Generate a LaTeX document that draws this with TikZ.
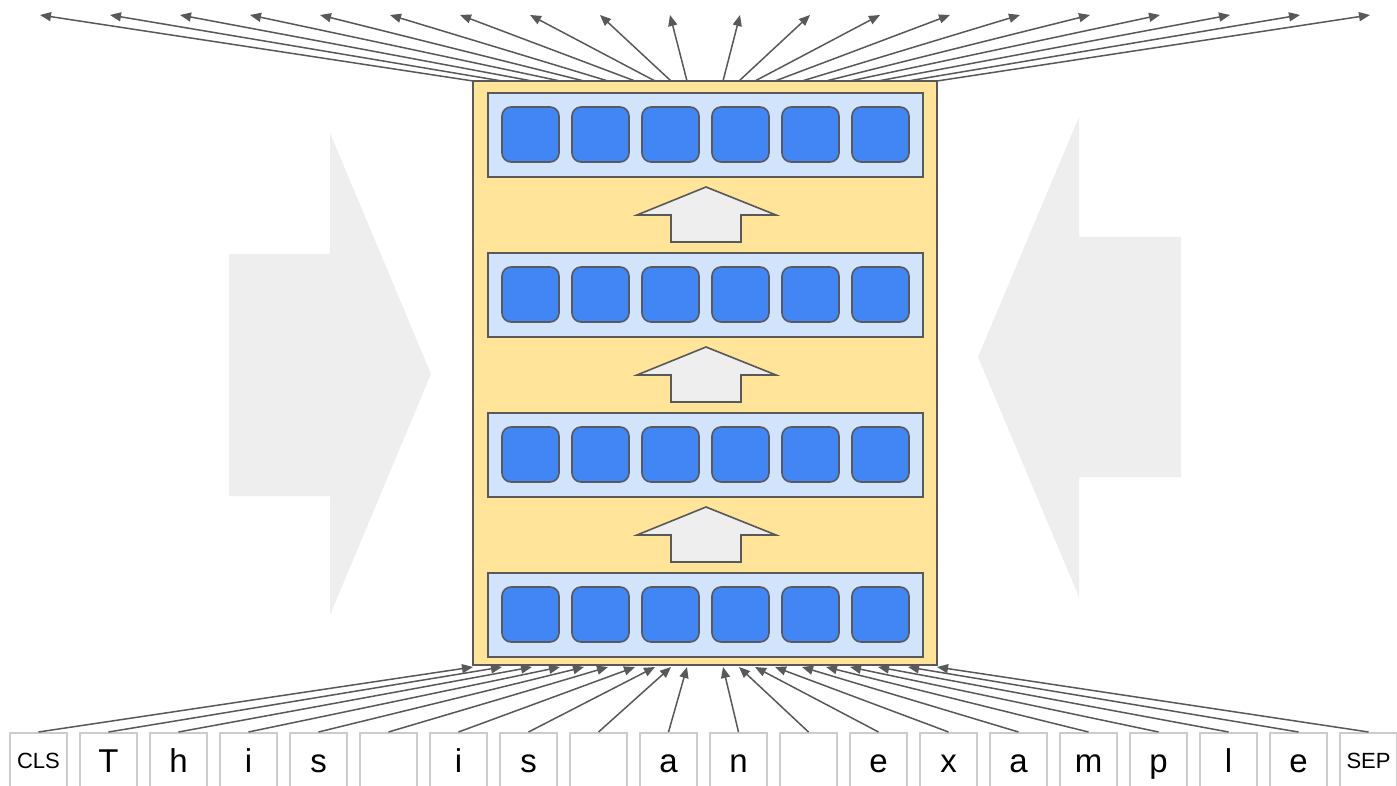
\documentclass[tikz,border=0pt]{standalone}
\usepackage{fontspec}
\setmainfont{Liberation Sans}
\usetikzlibrary{arrows.meta,positioning}

\definecolor{stackyellow}{HTML}{FFE49A}
\definecolor{layerblue}{HTML}{D2E3FC}
\definecolor{unitblue}{HTML}{4285F4}
\definecolor{edgegray}{HTML}{595959}
\definecolor{shadegray}{HTML}{EEEEEE}
\definecolor{tokgray}{HTML}{CCCCCC}

\tikzset{
  stackbox/.style={draw=edgegray, line width=1.6pt, fill=stackyellow,
    minimum width=464pt, minimum height=584pt, inner sep=0pt},
  layerbox/.style={draw=edgegray, line width=1.6pt, fill=layerblue,
    minimum width=435pt, minimum height=84pt, inner sep=0pt},
  unitbox/.style={draw=edgegray, line width=1.6pt, fill=unitblue, rounded corners=9pt,
    minimum width=57pt, minimum height=55pt, inner sep=0pt},
  tokbox/.style={draw=tokgray, line width=1.5pt, minimum width=57pt, minimum height=56pt,
    inner sep=0pt, anchor=north, font=\fontsize{33}{33}\selectfont,
    text height=24pt, text depth=0pt},
  specialtok/.style={tokbox, font=\fontsize{22}{22}\selectfont, text height=16pt},
  flow/.style={draw=edgegray, line width=1.5pt, -{Triangle[length=11pt,width=9pt]}},
  liftarrow/.style={draw=edgegray, line width=1.6pt, fill=shadegray},
}

\begin{document}
\begin{tikzpicture}[x=1pt,y=-1pt]
    \clip (0,0) rectangle (1397,786);
    \fill[white] (0,0) rectangle (1397,786);

    % Big background arrows
    \fill[shadegray] (229,254) -- (330,254) -- (330,133) -- (431,374) -- (330,615) -- (330,496) -- (229,496) -- cycle;
    \fill[shadegray] (1181,237) -- (1079,237) -- (1079,117) -- (978,357) -- (1079,597) -- (1079,477) -- (1181,477) -- cycle;

    % Encoder stack with four layers
    \node[stackbox] (stack) at (705,373) {};
    \foreach \l in {0,1,2,3} {
      \node[layerbox] (layer\l) at (705.5,135+160*\l) {};
      \foreach \j in {0,...,5}
        \node[unitbox] (unit\l\j) at (530.5+70*\j,134.5+160*\l) {};
    }

    % Arrows between layers
    \foreach \l in {0,1,2}
      \draw[liftarrow, shift={(0,160*\l)}] (706,187) -- (776,215) -- (741,215) -- (741,242)
        -- (671,242) -- (671,215) -- (637,215) -- cycle;

    % Input tokens
    \node[specialtok] (tok0) at (38.5,732) {CLS};
    \foreach \t [count=\i] in {T,h,i,s,{},i,s,{},a,n,{},e,x,a,m,p,l,e}
      \node[tokbox] (tok\i) at (38.5+70*\i,732) {\t};
    \node[specialtok] (tok19) at (1368.5,732) {SEP};

    % Inputs into the stack, outputs out of it
    \foreach \off [count=\i from 0] in {-232,-203,-173,-145,-121,-97,-70,-50,-34,-18,
                                         18,34,50,70,97,121,145,173,203,232} {
      \coordinate (src\i) at (705+\off,81);
      \coordinate (dst\i) at (40+70*\i,15);
      \coordinate (entry\i) at (705+\off,667);
      \draw[flow] (src\i) -- (dst\i);
      \draw[flow] (tok\i.north) -- (entry\i);
    }
\end{tikzpicture}
\end{document}
